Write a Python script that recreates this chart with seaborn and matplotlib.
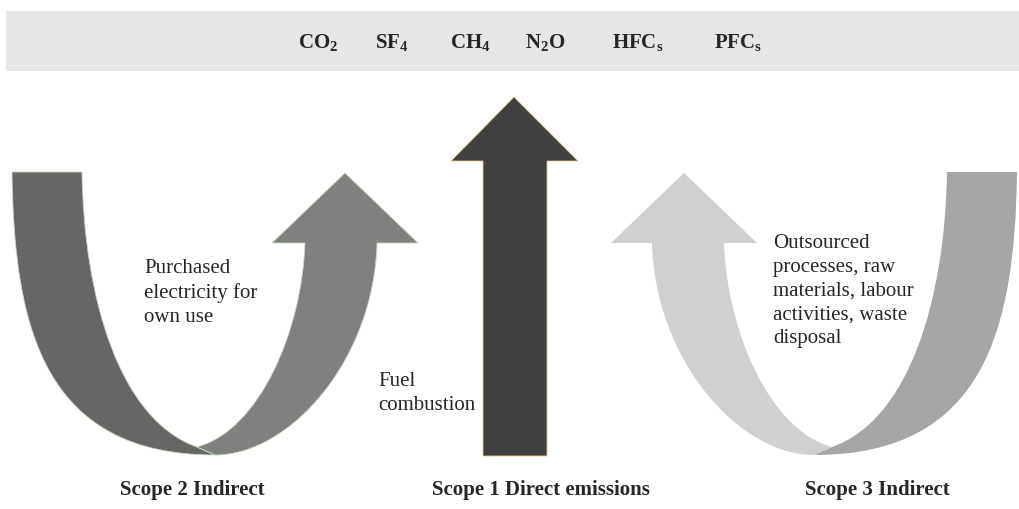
import numpy as np
import seaborn as sns
import matplotlib.pyplot as plt
from matplotlib.path import Path
from matplotlib.patches import PathPatch, Polygon, Rectangle

sns.set_theme(style="white")
plt.rcParams['font.family'] = ['Liberation Serif', 'DejaVu Serif']
plt.rcParams['mathtext.fontset'] = 'custom'
plt.rcParams['mathtext.rm'] = 'Liberation Serif:bold'
plt.rcParams['mathtext.bf'] = 'Liberation Serif:bold'
plt.rcParams['mathtext.it'] = 'Liberation Serif:bold'

# texts
gases = ["CO$_2$", "SF$_4$", "CH$_4$", "N$_2$O", "HFC$_\\mathrm{s}$", "PFC$_\\mathrm{s}$"]
gas_x = [318, 392, 470, 545, 638, 738]
scopes = ["Scope 2 Indirect", "Scope 1 Direct emissions", "Scope 3 Indirect"]
scope_x = [192, 541, 877]
desc_scope2 = "Purchased\nelectricity for\nown use"
desc_scope1 = "Fuel\ncombustion"
desc_scope3 = "Outsourced\nprocesses, raw\nmaterials, labour\nactivities, waste\ndisposal"

# left U-turn arrow outline (pixel coords), right one is its mirror image
arm_outer = [(12, 172), (14, 330), (45, 455), (215, 455)]
arm_inner = [(82, 172), (84, 300), (120, 420), (197, 447)]
head_inner = [(197, 447), (260, 430), (302, 330), (305, 243)]
head_outer = [(377, 243), (374, 360), (290, 455), (215, 455)]
head_tri = [(272, 243), (345, 173), (418, 243)]
mirror = 1029

edge = "#c4dcb4"


def band_path(outer, inner):
    verts = list(outer) + [inner[3], inner[2], inner[1], inner[0], outer[0]]
    codes = [Path.MOVETO, Path.CURVE4, Path.CURVE4, Path.CURVE4,
             Path.LINETO, Path.CURVE4, Path.CURVE4, Path.CURVE4, Path.CLOSEPOLY]
    return Path(verts, codes)


def head_path(inner, tri, outer):
    verts = list(inner) + list(tri) + list(outer) + [inner[0]]
    codes = [Path.MOVETO, Path.CURVE4, Path.CURVE4, Path.CURVE4,
             Path.LINETO, Path.LINETO, Path.LINETO,
             Path.LINETO, Path.CURVE4, Path.CURVE4, Path.CURVE4, Path.CLOSEPOLY]
    return Path(verts, codes)


def flip(pts):
    return [(mirror - x, y) for x, y in pts]


fig = plt.figure(figsize=(10.19, 5.09), dpi=100)
ax = fig.add_axes([0, 0, 1, 1])
ax.set_xlim(0, 1019)
ax.set_ylim(509, 0)
ax.axis('off')

# top band with gases
ax.add_patch(Rectangle((6, 11), 1013, 60, facecolor="#e6e6e6", edgecolor="none"))
for g, x in zip(gases, gas_x):
    ax.text(x, 42, g, ha='center', va='center', fontsize=15, fontweight='bold')

# scope 2 arrow
ax.add_patch(PathPatch(band_path(arm_outer, arm_inner), facecolor="#666666", edgecolor=edge, lw=0.6))
ax.add_patch(PathPatch(head_path(head_inner, head_tri, head_outer), facecolor="#808080", edgecolor=edge, lw=0.6))

# scope 3 arrow
ax.add_patch(PathPatch(band_path(flip(arm_outer), flip(arm_inner)), facecolor="#a6a6a6", edgecolor="none"))
ax.add_patch(PathPatch(head_path(flip(head_inner), flip(head_tri), flip(head_outer)),
                       facecolor="#d0d0d0", edgecolor="none"))

# scope 1 straight arrow
ax.add_patch(Polygon([(483, 456), (483, 161), (451, 161), (514, 97), (578, 161), (547, 161), (547, 456)],
                     closed=True, facecolor="#404040", edgecolor="#e3c98a", lw=0.6))

ax.text(144, 259, desc_scope2, ha='left', va='top', fontsize=15, linespacing=1.34)
ax.text(378, 372, desc_scope1, ha='left', va='top', fontsize=15, linespacing=1.34)
ax.text(773, 234, desc_scope3, ha='left', va='top', fontsize=15, linespacing=1.34)

for s, x in zip(scopes, scope_x):
    ax.text(x, 490, s, ha='center', va='center', fontsize=15, fontweight='bold')

fig.savefig("out.png", dpi=100)
